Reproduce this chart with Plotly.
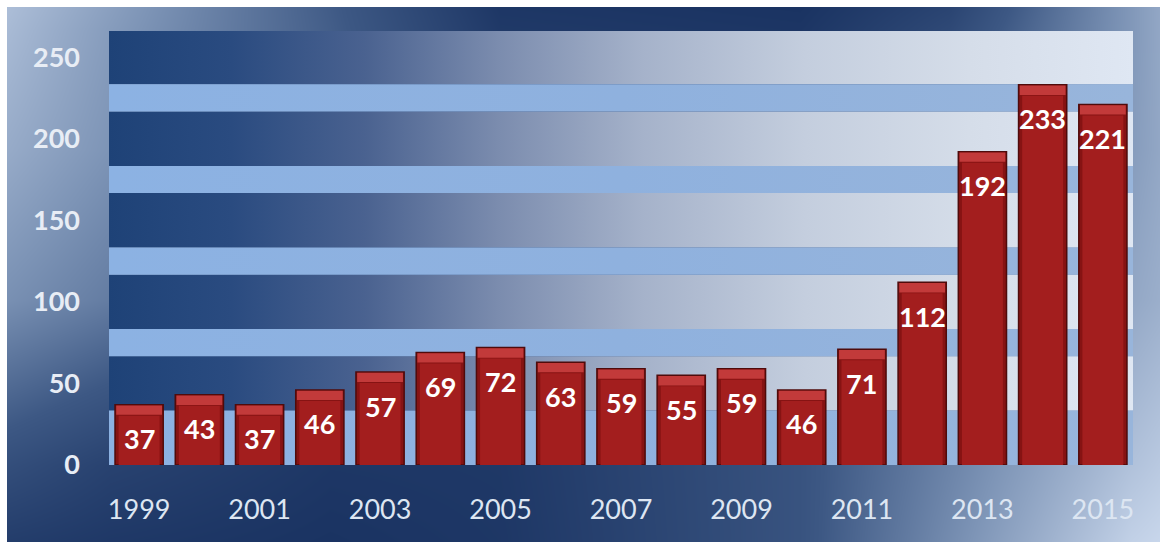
import plotly.graph_objects as go

# ---- data ----
years = list(range(1999, 2016))
values = [37, 43, 37, 46, 57, 69, 72, 63, 59, 55, 59, 46, 71, 112, 192, 233, 221]
y_ticks = [0, 50, 100, 150, 200, 250]
x_ticks = [1999, 2001, 2003, 2005, 2007, 2009, 2011, 2013, 2015]

W, H = 1160, 542
# plot area in pixels
PL, PR, PT, PB = 109, 1133, 31, 465
Y_MAX = 266.0
X0, X1 = years[0] - 0.5, years[-1] + 0.5

# ---- background (paper gradient) ----
bg_x = [7, 110, 330, 500, 800, 950, 1131, 1160]
bg_y = [7, 31, 150, 300, 465, 542]
bg_z = [
    [0.82, 0.66, 0.32, 0.03, 0.00, 0.14, 0.62, 0.70],
    [0.80, 0.64, 0.33, 0.05, 0.02, 0.18, 0.62, 0.70],
    [0.72, 0.60, 0.30, 0.20, 0.30, 0.45, 0.64, 0.70],
    [0.58, 0.48, 0.25, 0.30, 0.40, 0.55, 0.70, 0.74],
    [0.22, 0.12, 0.03, 0.04, 0.26, 0.52, 0.84, 0.88],
    [0.08, 0.04, 0.00, 0.03, 0.26, 0.56, 0.92, 0.95],
]
bg_scale = [[0, '#1a3362'], [0.3, '#3d5884'], [0.6, '#7d94b6'], [1, '#d3e0f3']]

fig = go.Figure()
fig.add_trace(go.Heatmap(x=bg_x, y=bg_y, z=bg_z, zsmooth='best', colorscale=bg_scale,
                         zmin=0, zmax=1, showscale=False, hoverinfo='skip',
                         xaxis='x', yaxis='y'))

# ---- plot-area bands ----
dark_bands = [(33.33, 66.67), (83.33, 116.67), (133.33, 166.67), (183.33, 216.67), (233.33, Y_MAX)]
light_bands = [(0, 33.33), (66.67, 83.33), (116.67, 133.33), (166.67, 183.33), (216.67, 233.33)]
dark_scale = [[0, '#1e4277'], [0.12, '#2a4b80'], [0.25, '#4a6290'], [0.38, '#7b8cae'],
              [0.52, '#a5b2ca'], [0.68, '#c4cede'], [0.84, '#d5dde9'], [1, '#dfe7f3']]
light_scale = [[0, '#8cb2e3'], [0.5, '#8fb1de'], [1, '#98b5db']]

for bands, scale in ((dark_bands, dark_scale), (light_bands, light_scale)):
    for lo, hi in bands:
        fig.add_trace(go.Scatter(
            x=[X0, X1, X1, X0, X0], y=[lo, lo, hi, hi, lo], mode='lines',
            line=dict(width=0), fill='toself',
            fillgradient=dict(type='horizontal', colorscale=scale, start=X0, stop=X1),
            hoverinfo='skip', showlegend=False, xaxis='x2', yaxis='y2'))

# ---- bars (on overlaying axes so they sit above the bands) ----
cap = 11 / ((PB - PT) / Y_MAX)
# outer body (darker bevel edges)
fig.add_trace(go.Bar(x=years, y=values,
                     marker=dict(color='#861313', line=dict(color='#4f0b0b', width=1.5)),
                     width=0.8, xaxis='x3', yaxis='y3', showlegend=False))
# inner face
fig.add_trace(go.Bar(x=years, y=[v - cap for v in values],
                     marker=dict(color='#a31e1e', line=dict(width=0)),
                     width=0.68, xaxis='x3', yaxis='y3', showlegend=False, hoverinfo='skip'))
# top bevel cap
fig.add_trace(go.Bar(x=years, y=[cap * 0.85] * len(values), base=[v - cap * 0.92 for v in values],
                     marker=dict(color='#c23a3a', line=dict(width=0)),
                     width=0.76, xaxis='x3', yaxis='y3', showlegend=False, hoverinfo='skip'))

annotations = []
for yr, v in zip(years, values):
    annotations.append(dict(x=yr, y=v, xref='x3', yref='y3', text=str(v), showarrow=False,
                            yanchor='middle', yshift=-34,
                            font=dict(family='Lato', size=27, color='white', weight='bold')))

dom_x = [PL / W, PR / W]
dom_y = [1 - PB / H, 1 - PT / H]
fig.update_layout(
    width=W, height=H, margin=dict(l=0, r=0, t=0, b=0),
    paper_bgcolor='white', plot_bgcolor='rgba(0,0,0,0)',
    barmode='overlay', showlegend=False,
    annotations=annotations,
    xaxis=dict(domain=[7 / W, 1], range=[7, 1160], visible=False, fixedrange=True),
    yaxis=dict(domain=[0, 1 - 7 / H], range=[542, 7], visible=False, fixedrange=True),
    xaxis2=dict(domain=dom_x, range=[X0, X1], anchor='y2',
                tickvals=x_ticks, ticktext=[str(t) for t in x_ticks],
                showgrid=False, zeroline=False, showline=False, ticks='',
                ticklabelstandoff=26, automargin=False,
                tickfont=dict(family='Lato', size=27, color='#dde6f2')),
    yaxis2=dict(domain=dom_y, range=[0, Y_MAX], anchor='x2',
                tickvals=y_ticks, showgrid=False, zeroline=False, showline=False, ticks='',
                ticklabelstandoff=28, automargin=False,
                tickfont=dict(family='Lato', size=27, color='#e8edf5', weight='bold')),
    xaxis3=dict(overlaying='x2', range=[X0, X1], anchor='y3', visible=False),
    yaxis3=dict(overlaying='y2', range=[0, Y_MAX], anchor='x3', visible=False),
)

fig.write_html('out.html')
